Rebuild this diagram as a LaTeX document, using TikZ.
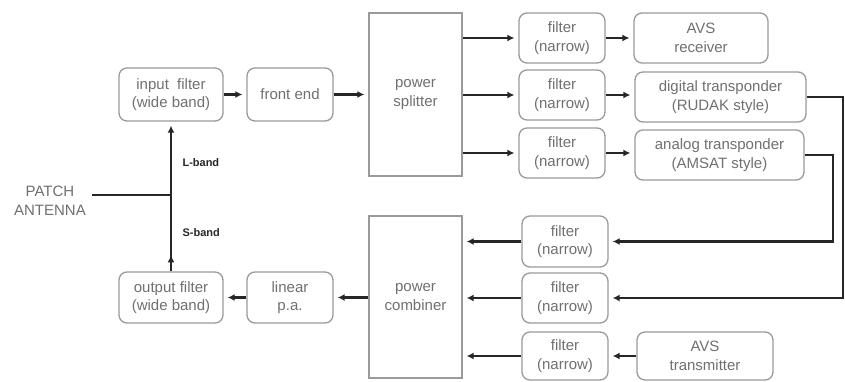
\documentclass[tikz,border=0pt]{standalone}
\usepackage{fontspec}
\setmainfont{Liberation Sans}
\usetikzlibrary{arrows.meta}
\definecolor{txt}{HTML}{707070}
\definecolor{bord}{HTML}{9A9A9A}
\definecolor{wire}{HTML}{262626}
\tikzset{
  box/.style={draw=bord, line width=1.3pt, rounded corners=8pt, align=center, text=txt,
    font=\fontsize{15}{18.5}\selectfont, inner sep=0pt},
  sqbox/.style={box, rounded corners=0pt},
  wire/.style={draw=wire, line width=2.6pt},
  arr/.style={wire, -{Latex[length=7pt,width=7pt]}, shorten >=4pt},
  band/.style={font=\fontsize{11}{13}\selectfont\bfseries, text=wire, anchor=west},
}
\begin{document}
\begin{tikzpicture}[x=1pt,y=-1pt]
\useasboundingbox (0,0) rectangle (845,382);
\fill[white] (0,0) rectangle (845,382);
% upper chain
\node[box, minimum width=104pt, minimum height=53pt] (inf) at (171,94.5) {input~~filter\\(wide band)};
\node[box, minimum width=86pt, minimum height=53pt] (fe) at (290,94.5) {front end};
\node[sqbox, minimum width=93pt, minimum height=163pt] (spl) at (415.5,94.5) {power\\splitter};
\node[box, minimum width=86pt, minimum height=50pt] (f1) at (562,38) {filter\\(narrow)};
\node[box, minimum width=86pt, minimum height=50pt] (f2) at (562,95) {filter\\(narrow)};
\node[box, minimum width=86pt, minimum height=50pt] (f3) at (562,153) {filter\\(narrow)};
\node[box, minimum width=134pt, minimum height=50pt] (avsr) at (701,38) {AVS\\receiver};
\node[box, minimum width=171pt, minimum height=50pt] (dig) at (720.5,97) {digital transponder\\(RUDAK style)};
\node[box, minimum width=169pt, minimum height=50pt] (ana) at (719.5,155) {analog transponder\\(AMSAT style)};
% lower chain
\node[sqbox, minimum width=93pt, minimum height=162pt] (comb) at (415.5,297) {power\\combiner};
\node[box, minimum width=86pt, minimum height=51pt] (g1) at (565,241.5) {filter\\(narrow)};
\node[box, minimum width=86pt, minimum height=50pt] (g2) at (565,298) {filter\\(narrow)};
\node[box, minimum width=86pt, minimum height=48pt] (g3) at (565,356) {filter\\(narrow)};
\node[box, minimum width=136pt, minimum height=48pt] (avst) at (705,356) {AVS\\transmitter};
\node[box, minimum width=104pt, minimum height=51pt] (outf) at (171,297.5) {output filter\\(wide band)};
\node[box, minimum width=86pt, minimum height=51pt] (lpa) at (290,297.5) {linear\\p.a.};
% antenna
\node[align=center, text=txt, font=\fontsize{15}{19}\selectfont] (ant) at (50,201) {PATCH\\ANTENNA};
\coordinate (antend) at (92,195);
\coordinate (jn) at (171,195);
\node[band] (lb) at (179,163) {L-band};
\node[band] (sb) at (179,233) {S-band};
% connectors
\draw[arr] (inf.east) -- (fe.west);
\draw[arr] (fe.east) -- (spl.west);
\draw[arr] (spl.east |- f1.west) -- (f1.west);
\draw[arr] (spl.east |- f2.west) -- (f2.west);
\draw[arr] (spl.east |- f3.west) -- (f3.west);
\draw[arr] (f1.east) -- (avsr.west);
\draw[arr] (f2.east) -- (f2.east -| dig.west);
\draw[arr] (f3.east) -- (f3.east -| ana.west);
\coordinate (rd) at (843,97);
\coordinate (ra) at (833,155);
\draw[arr] (dig.east) -- (rd) -- (rd |- g2.east) -- (g2.east);
\draw[arr] (ana.east) -- (ra) -- (ra |- g1.east) -- (g1.east);
\draw[arr] (avst.west) -- (g3.east);
\draw[arr] (g1.west) -- (g1.west -| comb.east);
\draw[arr] (g2.west) -- (g2.west -| comb.east);
\draw[arr] (g3.west) -- (g3.west -| comb.east);
\draw[arr] (comb.west |- lpa.east) -- (lpa.east);
\draw[arr] (lpa.west) -- (outf.east);
\draw[wire] (antend) -- (jn);
\draw[arr] (jn) -- (inf.south);
\draw[wire] (outf.north) -- (jn);
\draw[wire, -{Latex[length=7pt,width=7pt]}] (outf.north) -- ++(0,-16);
\end{tikzpicture}
\end{document}
